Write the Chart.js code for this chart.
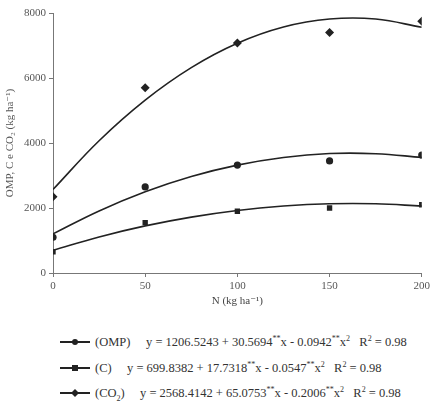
<!DOCTYPE html>
<html>
<head>
<meta charset="utf-8">
<script src="https://cdn.jsdelivr.net/npm/chart.js@4/dist/chart.umd.min.js"></script>
<style>
    html, body { margin: 0; padding: 0; background: #fff; }
    body { width: 433px; height: 404px; position: relative; overflow: hidden;
           font-family: "Liberation Serif", "DejaVu Serif", serif; color: #333; }
    #wrap { position: absolute; left: 0; top: 0; width: 433px; height: 312px; }
    .leg-row { position: absolute; left: 60px; height: 16px; font-size: 12.5px; line-height: 16px; white-space: nowrap; }
    .leg-row svg { position: absolute; left: 0; top: 3px; }
    .leg-row .name { position: absolute; left: 35px; }
    .leg-row .eq { position: absolute; }
    sup, sub { font-size: 8px; line-height: 0; }
</style>
</head>
<body>
<div id="wrap"><canvas id="chart" width="433" height="312"></canvas></div>

<!-- Legende mit Regressionsgleichungen -->
<div class="leg-row" style="top:334px">
    <svg width="32" height="10"><line x1="0" y1="5" x2="30" y2="5" stroke="#222" stroke-width="2"/><circle cx="15" cy="5" r="3" fill="#222"/></svg>
    <span class="name">(OMP)</span>
    <span class="eq" style="left:86px">y = 1206.5243 + 30.5694<sup>**</sup>x - 0.0942<sup>**</sup>x<sup>2</sup>&nbsp;&nbsp; R<sup>2</sup> = 0.98</span>
</div>
<div class="leg-row" style="top:360px">
    <svg width="32" height="10"><line x1="0" y1="5" x2="30" y2="5" stroke="#222" stroke-width="2"/><rect x="12" y="2" width="6" height="6" fill="#222"/></svg>
    <span class="name">(C)</span>
    <span class="eq" style="left:67px">y = 699.8382 + 17.7318<sup>**</sup>x - 0.0547<sup>**</sup>x<sup>2</sup>&nbsp;&nbsp; R<sup>2</sup> = 0.98</span>
</div>
<div class="leg-row" style="top:385px">
    <svg width="32" height="10"><line x1="0" y1="5" x2="30" y2="5" stroke="#222" stroke-width="2"/><path d="M15 1 L19 5 L15 9 L11 5 Z" fill="#222"/></svg>
    <span class="name">(CO<sub>2</sub>)</span>
    <span class="eq" style="left:80px">y = 2568.4142 + 65.0753<sup>**</sup>x - 0.2006<sup>**</sup>x<sup>2</sup>&nbsp;&nbsp; R<sup>2</sup> = 0.98</span>
</div>

<script>
// Dosis N (kg/ha)
const doses = [0, 50, 100, 150, 200];

const omp = [1100, 2650, 3320, 3450, 3630];
const carbon = [650, 1550, 1900, 2000, 2100];
const co2 = [2350, 5700, 7080, 7400, 7750];

const curveX = [0, 25, 50, 75, 100, 125, 150, 175, 200];
const ompCurve = [1205, 1910, 2500, 2970, 3320, 3555, 3675, 3670, 3555];
const carbonCurve = [700, 1110, 1450, 1720, 1925, 2060, 2130, 2130, 2060];
const co2Curve = [2570, 4070, 5320, 6320, 7070, 7570, 7815, 7815, 7560];

const yTicks = [0, 2000, 4000, 6000, 8000];
const xTicks = [0, 50, 100, 150, 200];

const ink = '#222';
const pts = (xs, ys) => xs.map((x, i) => ({ x, y: ys[i] }));

const curve = (ys) => ({
    data: pts(curveX, ys),
    showLine: true,
    borderColor: ink,
    borderWidth: 1.6,
    pointRadius: 0,
    tension: 0.4,
    fill: false,
});

const marks = (ys, style, r) => ({
    data: pts(doses, ys),
    showLine: false,
    pointStyle: style,
    pointRadius: r,
    pointBackgroundColor: ink,
    pointBorderColor: ink,
    pointBorderWidth: 0,
});

const serif = '"Liberation Serif", "DejaVu Serif", serif';

new Chart(document.getElementById('chart'), {
    type: 'scatter',
    data: {
        datasets: [
            curve(co2Curve), curve(ompCurve), curve(carbonCurve),
            marks(co2, 'rectRot', 4.5), marks(omp, 'circle', 3.6), marks(carbon, 'rect', 3.8),
        ],
    },
    options: {
        responsive: false,
        animation: false,
        layout: { padding: { top: 13, right: 10, left: 0, bottom: 0 } },
        plugins: { legend: { display: false }, tooltip: { enabled: false } },
        scales: {
            x: {
                type: 'linear', min: 0, max: 200,
                afterBuildTicks: (s) => { s.ticks = xTicks.map(v => ({ value: v })); },
                afterFit: (s) => { s.height = 39; },
                grid: { drawOnChartArea: false, drawTicks: true, tickLength: 4, color: '#777' },
                border: { color: '#777', width: 1 },
                ticks: { color: '#555', font: { family: serif, size: 11 }, padding: 3, maxRotation: 0,
                         callback: (v) => String(v) },
                title: { display: true, text: 'N (kg ha⁻¹)', color: '#444',
                         font: { family: serif, size: 11 }, padding: { top: 3 } },
            },
            y: {
                type: 'linear', min: 0, max: 8000,
                afterBuildTicks: (s) => { s.ticks = yTicks.map(v => ({ value: v })); },
                afterFit: (s) => { s.width = 53; },
                grid: { drawOnChartArea: false, drawTicks: true, tickLength: 4, color: '#777' },
                border: { color: '#777', width: 1 },
                ticks: { color: '#555', font: { family: serif, size: 11 }, padding: 3,
                         callback: (v) => String(v) },
                title: { display: true, text: 'OMP, C e CO₂ (kg ha⁻¹)', color: '#555',
                         font: { family: serif, size: 11 }, padding: { bottom: 2 } },
            },
        },
    },
});
</script>
</body>
</html>
